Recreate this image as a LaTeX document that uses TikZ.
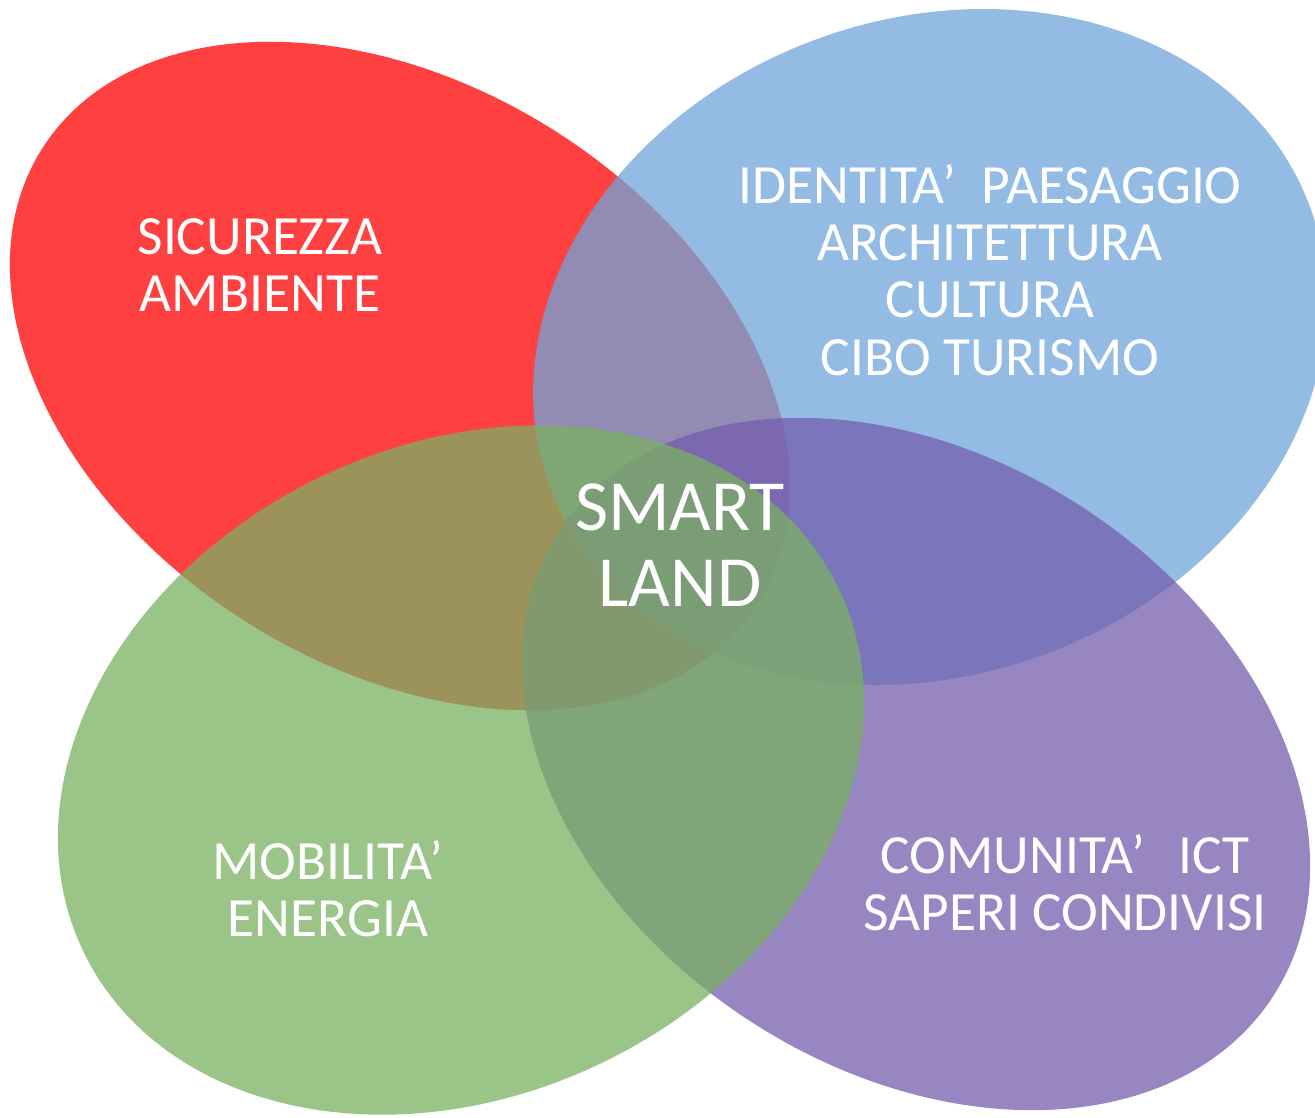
\documentclass[tikz,border=0pt]{standalone}
\usepackage{fontspec}
\setmainfont{Carlito}
\usepackage{tikz}

\definecolor{redpetal}{RGB}{255,0,0}
\definecolor{bluepetal}{RGB}{111,164,218}
\definecolor{violetpetal}{RGB}{116,94,174}
\definecolor{greenpetal}{RGB}{122,176,98}

\begin{document}
\begin{tikzpicture}[x=0.02cm, y=-0.02cm,
  petal/.style = {fill opacity=0.75},
  area/.style = {text=white, align=center, font=\fontsize{31.5}{32.6}\selectfont},
  core/.style = {text=white, align=center, font=\fontsize{41}{43}\selectfont}]
\useasboundingbox (0,0) rectangle (1315,1117);
\clip (0,0) rectangle (1315,1117);
% the four petals
\fill[petal, redpetal, shift={(400,376)}, rotate=-32.5] (0,0) ellipse [x radius=424, y radius=290];
\fill[petal, bluepetal, shift={(930,347)}, rotate=20] (0,0) ellipse [x radius=405, y radius=328];
\fill[petal, violetpetal, shift={(916,764)}, rotate=-33.1] (0,0) ellipse [x radius=426, y radius=306];
\fill[petal, greenpetal, shift={(461,770)}, rotate=25.7] (0,0) ellipse [x radius=419, y radius=325];
% labels
\node[area] (sicurezza) at (260,265) {SICUREZZA\\AMBIENTE};
\node[area] (identita) at (990,270) {IDENTITA’\ \ PAESAGGIO\\ARCHITETTURA\\CULTURA\\CIBO TURISMO};
\node[area] (mobilita) at (328,889) {MOBILITA’\\ENERGIA};
\node[area] (comunita) at (1065,883) {COMUNITA’\hspace{0.6em}ICT\\SAPERI CONDIVISI};
\node[core] (smart) at (680,545) {SMART\\LAND};
\end{tikzpicture}
\end{document}
